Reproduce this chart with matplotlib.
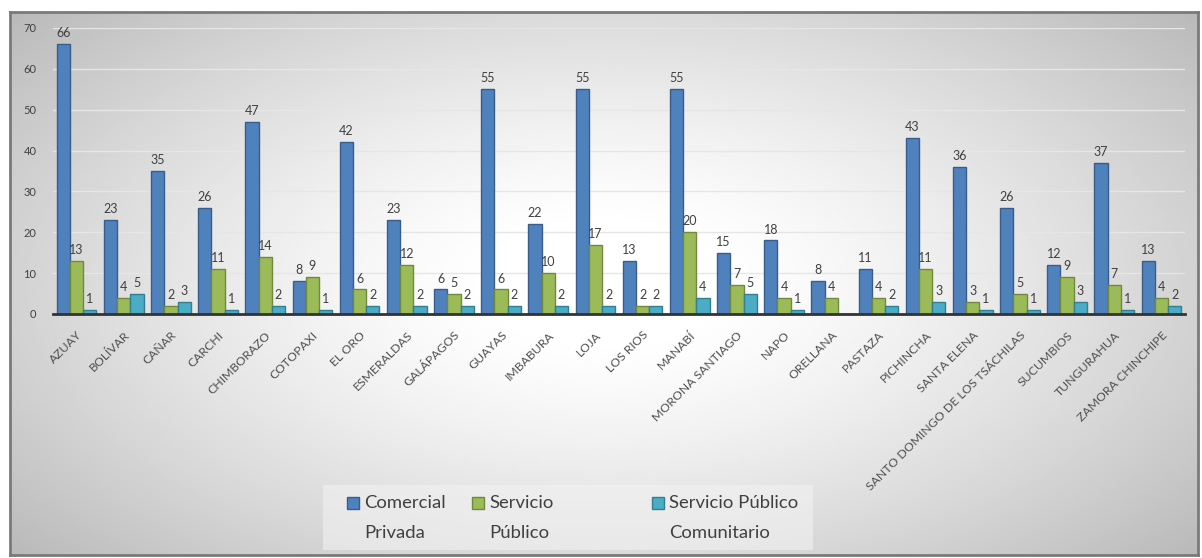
import numpy as np
import matplotlib
matplotlib.use("Agg")
import matplotlib.pyplot as plt
from matplotlib.patches import Rectangle

plt.rcParams['font.family'] = ['Lato', 'DejaVu Sans']

# data
provincias = ["AZUAY", "BOLÍVAR", "CAÑAR", "CARCHI", "CHIMBORAZO", "COTOPAXI",
              "EL ORO", "ESMERALDAS", "GALÁPAGOS", "GUAYAS", "IMBABURA", "LOJA",
              "LOS RIOS", "MANABÍ", "MORONA SANTIAGO", "NAPO", "ORELLANA", "PASTAZA",
              "PICHINCHA", "SANTA ELENA", "SANTO DOMINGO DE LOS TSÁCHILAS",
              "SUCUMBIOS", "TUNGURAHUA", "ZAMORA CHINCHIPE"]
comercial_privada = [66, 23, 35, 26, 47, 8, 42, 23, 6, 55, 22, 55, 13, 55, 15, 18, 8, 11, 43, 36, 26, 12, 37, 13]
servicio_publico = [13, 4, 2, 11, 14, 9, 6, 12, 5, 6, 10, 17, 2, 20, 7, 4, 4, 4, 11, 3, 5, 9, 7, 4]
servicio_comunitario = [1, 5, 3, 1, 2, 1, 2, 2, 2, 2, 2, 2, 2, 4, 5, 1, 0, 2, 3, 1, 1, 3, 1, 2]
series_names = ["Comercial\nPrivada", "Servicio\nPúblico", "Servicio Público\nComunitario"]

colors = ["#4F81BD", "#9BBB59", "#4BACC6"]
edges = ["#385D8A", "#71893F", "#357D91"]
W, H = 1202, 558

fig = plt.figure(figsize=(W / 100, H / 100), dpi=100)
fig.patch.set_facecolor("white")

# background: radial grey gradient inside a framed box
bg = fig.add_axes([10 / W, 3 / H, 1188 / W, 543 / H])
yy, xx = np.mgrid[-1:1:200j, -1:1:400j]
r = np.sqrt((xx * 0.85) ** 2 + (yy * 0.75) ** 2)
shade = 1.0 - 0.28 * np.clip(r - 0.15, 0, None) ** 1.3
bg.imshow(shade, cmap="gray", vmin=0, vmax=1, aspect="auto", extent=[0, 1, 0, 1])
bg.set_xlim(0, 1)
bg.set_ylim(0, 1)
bg.set_xticks([])
bg.set_yticks([])
for s in bg.spines.values():
    s.set_color("#7a7a7a")
    s.set_linewidth(2)

ax = fig.add_axes([53 / W, 1 - 314 / H, 1132 / W, 286 / H])
ax.patch.set_alpha(0)

x = np.arange(len(provincias))
w = 0.28
all_series = [comercial_privada, servicio_publico, servicio_comunitario]
for i, vals in enumerate(all_series):
    pos = x + (i - 1) * w
    ax.bar(pos, vals, width=w, color=colors[i], edgecolor=edges[i],
           linewidth=1, zorder=3)
    for p, v in zip(pos, vals):
        if v > 0:
            ax.text(p, v + 1.2, str(v), ha="center", va="bottom",
                    fontsize=9, color="#404040", zorder=4)

ax.set_xlim(-0.5, len(provincias) - 0.5)
ax.set_ylim(0, 70)
ax.set_yticks(range(0, 71, 10))
ax.yaxis.grid(True, color="#e6e6e6", linewidth=1, zorder=0)
ax.tick_params(axis="y", length=0, labelsize=8, labelcolor="#404040", pad=12)
ax.set_xticks(x)
ax.set_xticklabels(provincias, rotation=45, ha="right", rotation_mode="anchor",
                   fontsize=8.8, color="#505050")
ax.tick_params(axis="x", length=0, pad=11)
for side in ["top", "right", "left"]:
    ax.spines[side].set_visible(False)
ax.spines["bottom"].set_color("#333333")
ax.spines["bottom"].set_linewidth(2)
ax.spines["bottom"].set_zorder(5)

# legend box, drawn like the Excel one (square aligned with the first line)
fig.patches.append(Rectangle((323 / W, 1 - 550 / H), 490 / W, 65 / H,
                             transform=fig.transFigure, facecolor="#f2f2f2",
                             edgecolor="none", alpha=0.6, zorder=1))
handle_x = [347, 472, 652]
for i, name in enumerate(series_names):
    fig.patches.append(Rectangle((handle_x[i] / W, 1 - 509 / H), 12 / W, 12 / H,
                                 transform=fig.transFigure, facecolor=colors[i],
                                 edgecolor=edges[i], linewidth=1, zorder=2))
    fig.text((handle_x[i] + 17) / W, 1 - 518 / H, name, ha="left", va="center",
             fontsize=13.3, color="#404040", linespacing=2.0, zorder=2)

fig.savefig("out.png", dpi=100)
